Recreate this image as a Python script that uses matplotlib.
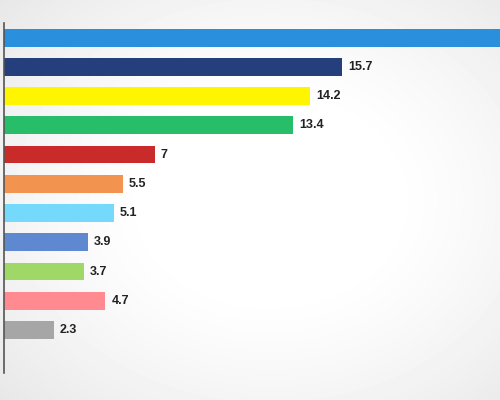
import numpy as np
import matplotlib as mpl
import matplotlib.pyplot as plt

mpl.use("Agg")

# data, top to bottom
values = [30.0, 15.7, 14.2, 13.4, 7, 5.5, 5.1, 3.9, 3.7, 4.7, 2.3]
labels = ["", "15.7", "14.2", "13.4", "7", "5.5", "5.1", "3.9", "3.7", "4.7", "2.3"]
colors = ["#2A8FDD", "#243F7B", "#FFF500", "#28BE69", "#C92A2A", "#F2944F",
          "#74D9FA", "#5E88D0", "#9FD867", "#FF8B90", "#A6A6A6"]

fig = plt.figure(figsize=(5, 4), dpi=100)

# radial grey-to-white background
bg = fig.add_axes([0, 0, 1, 1])
yy, xx = np.mgrid[0:400, 0:500]
r = np.sqrt(((xx - 270) / 330.0) ** 2 + ((yy - 200) / 260.0) ** 2)
shade = 1.0 - 0.13 * np.clip(r - 0.35, 0, None) ** 1.3
bg.imshow(shade, cmap="gray", vmin=0, vmax=1, aspect="auto", extent=[0, 1, 0, 1])
bg.axis("off")

# main axes: x from pixel 4 to 500, y from 23 to 373
ax = fig.add_axes([4 / 500, 27 / 400, 496 / 500, 350 / 400])
ax.patch.set_alpha(0)
pos = np.arange(len(values))
ax.barh(pos, values, height=0.61, color=colors)
for p, v, lab in zip(pos, values, labels):
    if lab:
        ax.text(v + 0.28, p, lab, va="center", ha="left", fontsize=9,
                fontweight="bold", color="#222222", family="Liberation Sans")

ax.set_xlim(0, 496 / 21.55)
ax.set_ylim(11.47, -0.5)
ax.set_xticks([])
ax.set_yticks([])
for s in ["top", "right", "bottom"]:
    ax.spines[s].set_visible(False)
ax.spines["left"].set_color("#555555")
ax.spines["left"].set_linewidth(1.2)

fig.savefig("out.png", dpi=100)
